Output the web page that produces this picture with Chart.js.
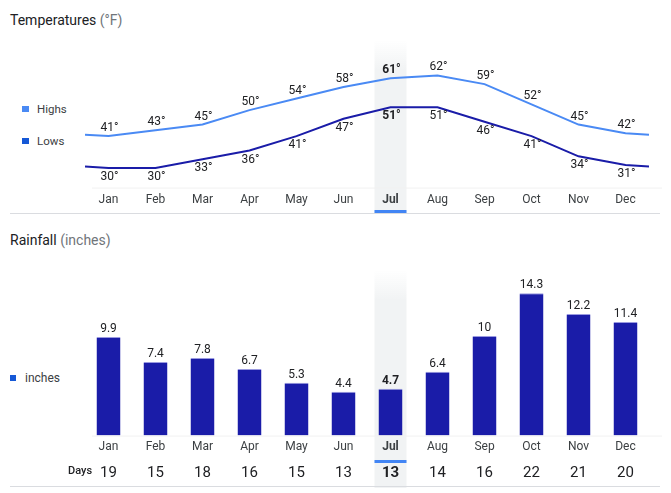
<!DOCTYPE html>
<html>
<head>
<meta charset="utf-8">
<script src="https://cdn.jsdelivr.net/npm/chart.js@4"></script>
<style>
  html,body{margin:0;padding:0;background:#fff;}
  body{width:671px;height:493px;position:relative;overflow:hidden;font-family:Roboto,Arial,sans-serif;}
  .abs{position:absolute;}
  .title{left:10px;font-size:14px;line-height:16px;color:#202124;white-space:nowrap;}
  .title span{color:#70757a;}
  .leg{font-size:11.5px;line-height:14px;color:#3c4043;white-space:nowrap;}
  .sq{position:absolute;width:7px;height:6px;}
  .sep{position:absolute;left:10px;width:650px;height:1px;background:#dadce0;}
  canvas{position:absolute;left:0;}
</style>
</head>
<body>
<div class="abs title" style="top:12px;">Temperatures <span>(°F)</span></div>
<div class="sq" style="left:22px;top:106px;background:#4a8af4;"></div>
<div class="abs leg" style="left:37px;top:102px;">Highs</div>
<div class="sq" style="left:22px;top:138px;background:#1558d6;"></div>
<div class="abs leg" style="left:37px;top:134px;">Lows</div>
<div style="position:absolute;left:0;top:0;width:671px;height:214px;"><canvas id="temp" width="671" height="214" style="top:0;"></canvas></div>
<div class="sep" style="top:213px;"></div>

<div class="abs title" style="top:232px;">Rainfall <span>(inches)</span></div>
<div class="sq" style="left:10px;top:375px;width:6px;background:#1558d6;"></div>
<div class="abs leg" style="left:25px;top:371px;font-size:12px;">inches</div>
<div style="position:absolute;left:0;top:250px;width:671px;height:238px;"><canvas id="rain" width="671" height="238" style="top:0;"></canvas></div>
<div class="abs" style="left:68px;top:463px;font-size:11px;line-height:16px;font-weight:500;color:#202124;">Days</div>
<div class="sep" style="top:486px;"></div>

<script>
const months = ['Jan','Feb','Mar','Apr','May','Jun','Jul','Aug','Sep','Oct','Nov','Dec'];
const highs = [41,43,45,50,54,58,61,62,59,52,45,42];
const lows = [30,30,33,36,41,47,51,51,46,41,34,31];
const highsEdge = 41.5;   // line level read at the left/right plot edges
const lowsEdge = 30.5;
const rainfall = [9.9,7.4,7.8,6.7,5.3,4.4,4.7,6.4,10,14.3,12.2,11.4];
const rainDays = ['19','15','18','16','15','13','13','14','16','22','21','20'];
const currentMonth = 6;

const FONT = 'Roboto, Arial, sans-serif';
const TEXT = '#202124';
const HIGHLIGHT = '#f1f3f4';
const ACCENT = '#4285f4';

function highlightPlugin(topY, bottomY, barY) {
  return {
    id: 'hl',
    beforeDraw(chart) {
      const ctx = chart.ctx;
      const xs = chart.scales.x;
      const cx = xs.getPixelForValue(currentMonth);
      const w = 32;
      const g = ctx.createLinearGradient(0, topY, 0, topY + 30);
      g.addColorStop(0, 'rgba(241,243,244,0)');
      g.addColorStop(1, 'rgba(241,243,244,1)');
      ctx.save();
      ctx.fillStyle = g;
      ctx.fillRect(cx - w/2, topY, w, 30);
      ctx.fillStyle = HIGHLIGHT;
      ctx.fillRect(cx - w/2, topY + 30, w, bottomY - topY - 30);
      ctx.fillStyle = ACCENT;
      ctx.fillRect(cx - w/2, barY, w, 3);
      // faint baseline
      const by = chart.chartArea.bottom + 0.5;
      ctx.strokeStyle = '#f1f1f1';
      ctx.lineWidth = 1;
      ctx.beginPath();
      ctx.moveTo(92, by);
      ctx.lineTo(662, by);
      ctx.stroke();
      ctx.restore();
    }
  };
}

// ---------- Temperatures ----------
const tempLabels = {
  id: 'tempLabels',
  afterDatasetsDraw(chart) {
    const ctx = chart.ctx;
    ctx.save();
    ctx.textAlign = 'center';
    ctx.textBaseline = 'middle';
    ctx.fillStyle = TEXT;
    [[0, highs, -8], [1, lows, 9]].forEach(([di, arr, off]) => {
      const meta = chart.getDatasetMeta(di);
      arr.forEach((v, i) => {
        const pt = meta.data[i + 1];
        ctx.font = (i === currentMonth ? 'bold ' : '') + '12px ' + FONT;
        ctx.fillText(v + '°', pt.x + 1, pt.y + off);
      });
    });
    ctx.restore();
  }
};

function edgeSeries(arr, edge) {
  return [{x: -0.5, y: edge}].concat(arr.map((v, i) => ({x: i, y: v}))).concat([{x: 11.5, y: edge}]);
}

new Chart(document.getElementById('temp'), {
  type: 'line',
  data: {
    datasets: [
      { label: 'Highs', data: edgeSeries(highs, highsEdge), borderColor: '#4a8af4', borderWidth: 2, pointRadius: 0, tension: 0 },
      { label: 'Lows', data: edgeSeries(lows, lowsEdge), borderColor: '#1a1ca8', borderWidth: 2, pointRadius: 0, tension: 0 }
    ]
  },
  options: {
    responsive: false,
    animation: false,
    devicePixelRatio: 1,
    layout: { padding: { left: 85, right: 22, top: 53, bottom: 2 } },
    plugins: { legend: { display: false }, tooltip: { enabled: false } },
    scales: {
      x: {
        type: 'linear', min: -0.5, max: 11.5,
        afterBuildTicks(scale) { scale.ticks = months.map((m, i) => ({ value: i })); },
        grid: { display: false, drawTicks: false },
        border: { display: false },
        ticks: {
          padding: 5,
          autoSkip: false,
          maxRotation: 0,
          color: '#3c4043',
          font: (c) => ({ family: FONT, size: 12, weight: (c.tick && c.tick.value === currentMonth) ? 'bold' : 'normal' }),
          callback: (v) => months[v]
        }
      },
      y: { display: false, min: 23.18, max: 69.77 }
    }
  },
  plugins: [highlightPlugin(40, 214, 210), tempLabels]
});

// ---------- Rainfall ----------
const barLabels = {
  id: 'barLabels',
  afterDatasetsDraw(chart) {
    const ctx = chart.ctx;
    const meta = chart.getDatasetMeta(0);
    ctx.save();
    ctx.textAlign = 'center';
    ctx.textBaseline = 'middle';
    ctx.fillStyle = TEXT;
    rainfall.forEach((v, i) => {
      const b = meta.data[i];
      ctx.font = (i === currentMonth ? 'bold ' : '') + '12px ' + FONT;
      ctx.fillText(String(v), b.x, b.y - 8);
    });
    ctx.restore();
  }
};

new Chart(document.getElementById('rain'), {
  type: 'bar',
  data: {
    labels: months,
    datasets: [{
      label: 'inches',
      data: rainfall,
      backgroundColor: '#1a1ca8',
      borderColor: '#9a9ae0',
      borderWidth: { top: 1, left: 0, right: 0, bottom: 0 },
      borderSkipped: 'bottom',
      barPercentage: 0.51,
      categoryPercentage: 1
    }]
  },
  options: {
    responsive: false,
    animation: false,
    devicePixelRatio: 1,
    layout: { padding: { left: 85, right: 22, top: 20, bottom: 0 } },
    plugins: { legend: { display: false }, tooltip: { enabled: false } },
    scales: {
      x: {
        type: 'category', weight: 0,
        grid: { display: false, drawTicks: false },
        border: { display: false },
        ticks: {
          padding: 4, autoSkip: false, maxRotation: 0, color: '#3c4043',
          font: (c) => ({ family: FONT, size: 12, weight: c.index === currentMonth ? 'bold' : 'normal' })
        }
      },
      days: {
        type: 'category', position: 'bottom', weight: 1, labels: rainDays, offset: true,
        grid: { display: false, drawTicks: false },
        border: { display: false },
        ticks: {
          padding: 6, autoSkip: false, maxRotation: 0, color: TEXT,
          font: (c) => ({ family: FONT, size: 15, weight: c.index === currentMonth ? 'bold' : 'normal' })
        }
      },
      y: { display: false, min: 0, max: 16.63 }
    }
  },
  plugins: [highlightPlugin(20, 238, 210), barLabels]
});
</script>
</body>
</html>
